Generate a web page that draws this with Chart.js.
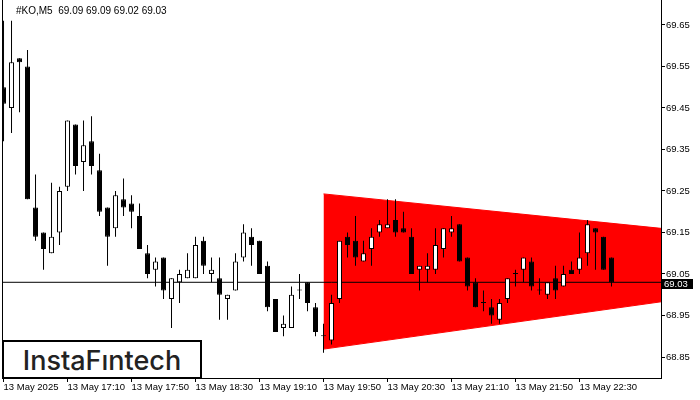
<!DOCTYPE html>
<html>
<head>
<meta charset="utf-8">
<script src="https://cdn.jsdelivr.net/npm/chart.js@4"></script>
<style>
  body { margin: 0; background: #fff; }
  #wrap { position: relative; width: 700px; height: 400px; }
  #title { position: absolute; left: 16px; top: 5px; font: 10px "Liberation Sans", sans-serif; color: #000; white-space: pre; }
  #logo { position: absolute; left: 2px; top: 340px; width: 196px; height: 35px; border: 2px solid #000; background: #fff;
          font: 500 27px Inter, sans-serif; color: #222; text-align: center; line-height: 37px; }
</style>
</head>
<body>
<div id="wrap">
  <canvas id="chart" width="700" height="400"></canvas>
  <div id="title"></div>
  <div id="logo">InstaFıntech</div>
</div>
<script>
// 5 min candles, 16:30 .. 22:50
const opens  = [69.50,69.45,69.57,69.55,69.21,69.15,69.10,69.15,69.26,69.41,69.32,69.37,69.30,69.21,69.16,69.23,69.22,69.19,69.10,69.06,
                69.09,68.99,69.03,69.04,69.04,69.13,69.05,69.04,68.99,69.01,69.09,69.14,69.13,69.07,68.99,68.92,68.92,69.01,69.03,68.97,
                68.90,68.89,68.99,69.14,69.13,69.08,69.11,69.15,69.16,69.18,69.16,69.14,69.06,69.06,69.06,69.11,69.15,69.17,69.09,69.03,
                68.98,68.97,68.94,68.99,69.05,69.06,69.08,69.01,69.00,69.04,69.02,69.06,69.06,69.10,69.16,69.14,69.09];
const highs  = [69.66,69.66,69.57,69.59,69.29,69.15,69.27,69.26,69.42,69.41,69.42,69.43,69.34,69.21,69.25,69.28,69.24,69.22,69.12,69.09,
                69.09,69.04,69.06,69.10,69.14,69.14,69.09,69.09,69.00,69.10,69.17,69.16,69.13,69.08,68.99,68.95,69.02,69.05,69.03,68.98,
                68.93,69.00,69.13,69.15,69.19,69.13,69.16,69.18,69.23,69.23,69.20,69.16,69.07,69.10,69.16,69.16,69.19,69.17,69.09,69.04,
                69.01,68.99,68.99,69.04,69.06,69.09,69.09,69.04,69.03,69.07,69.07,69.08,69.15,69.18,69.16,69.14,69.09];
const lows   = [69.37,69.39,69.44,69.23,69.13,69.06,69.10,69.12,69.25,69.29,69.25,69.29,69.19,69.07,69.14,69.19,69.16,69.11,69.04,69.02,
                68.99,68.92,68.98,69.04,69.04,69.05,69.03,68.94,68.94,69.01,69.08,69.07,69.05,68.96,68.91,68.90,68.92,68.99,68.96,68.90,
                68.86,68.88,68.98,69.09,69.07,69.08,69.07,69.14,69.16,69.14,69.15,69.05,69.01,69.03,69.05,69.09,69.14,69.08,69.01,68.97,
                68.96,68.93,68.93,68.98,69.02,69.03,69.01,69.00,68.99,68.99,69.02,69.05,69.05,69.07,69.06,69.06,69.02];
const closes = [69.46,69.56,69.56,69.23,69.14,69.11,69.14,69.25,69.42,69.31,69.36,69.31,69.20,69.14,69.24,69.21,69.20,69.11,69.05,69.08,
                69.01,69.04,69.05,69.06,69.12,69.07,69.06,69.00,69.00,69.08,69.15,69.12,69.05,68.97,68.91,68.93,69.00,69.01,68.98,68.91,
                68.90,68.98,69.13,69.12,69.09,69.10,69.14,69.17,69.17,69.15,69.15,69.05,69.07,69.07,69.12,69.16,69.16,69.08,69.02,68.97,
                68.98,68.95,68.98,69.04,69.05,69.09,69.02,69.01,69.03,69.01,69.05,69.05,69.09,69.17,69.15,69.06,69.03];

const timeTickIdx = [0, 8, 16, 24, 32, 40, 48, 56, 64, 72];
const timeLabels = ["13 May 2025", "13 May 17:10", "13 May 17:50", "13 May 18:30", "13 May 19:10",
                    "13 May 19:50", "13 May 20:30", "13 May 21:10", "13 May 21:50", "13 May 22:30"];
const priceTicks = [68.85, 68.95, 69.05, 69.15, 69.25, 69.35, 69.45, 69.55, 69.65];

// triangle pattern (left edge at bar 40, runs to right side)
const triX = [40, 82.19];
const triTop = [69.243, 69.16];
const triBottom = [68.869, 68.983];

const xMin = -0.19, xMax = 82.19;
const yMin = 68.7994, yMax = 69.7102;

const last = closes.length - 1;
document.getElementById('title').textContent = '#KO,M5  ' +
    [opens[last], highs[last], lows[last], closes[last]].map(v => v.toFixed(2)).join(' ');

let wicks = [], bodies = [], bodyFill = [];
for (let i = 0; i < opens.length; i++) {
    wicks.push({x: i, y: [lows[i], highs[i]]});
    bodies.push({x: i, y: [opens[i], closes[i]]});
    bodyFill.push(closes[i] > opens[i] ? '#fff' : '#000');
}

const extras = {
    id: 'extras',
    afterDraw(chart) {
        const {ctx, chartArea, scales} = chart;
        ctx.save();
        ctx.strokeStyle = '#000';
        ctx.lineWidth = 1;
        ctx.beginPath();
        ctx.moveTo(chartArea.left + 0.5, chartArea.top);
        ctx.lineTo(chartArea.left + 0.5, chartArea.bottom);
        ctx.stroke();
        // current price tag
        let y = Math.round(scales.y.getPixelForValue(closes[last]));
        ctx.fillStyle = '#000';
        ctx.fillRect(chartArea.right + 1, y - 3, 31, 10);
        ctx.fillStyle = '#fff';
        ctx.font = '9.5px "Liberation Sans"';
        ctx.textBaseline = 'middle';
        ctx.fillText(closes[last].toFixed(2), chartArea.right + 3, y + 2);
        ctx.restore();
    }
};

new Chart('chart', {
    type: 'bar',
    data: {
        datasets: [
            {type: 'line', data: triX.map((x, i) => ({x: x, y: triTop[i]})), borderColor: '#f00', borderWidth: 1,
             pointRadius: 0, order: 6},
            {type: 'line', data: triX.map((x, i) => ({x: x, y: triBottom[i]})), borderColor: '#f00', borderWidth: 1,
             pointRadius: 0, fill: 0, backgroundColor: '#f00', order: 5},
            {type: 'line', data: [{x: xMin, y: closes[last]}, {x: xMax, y: closes[last]}], borderColor: '#000',
             borderWidth: 1, pointRadius: 0, order: 3},
            {data: wicks, backgroundColor: '#000', barThickness: 1, grouped: false, inflateAmount: 0,
             borderWidth: 0, order: 2},
            {data: bodies, backgroundColor: bodyFill, borderColor: '#000', borderWidth: 1, borderSkipped: false,
             barThickness: 5, grouped: false, inflateAmount: 0, minBarLength: 1, order: 1}
        ]
    },
    options: {
        responsive: false,
        devicePixelRatio: 1,
        animation: false,
        layout: {padding: {left: 2, top: 0, right: 0, bottom: 0}},
        plugins: {legend: {display: false}, tooltip: {enabled: false}},
        scales: {
            x: {
                type: 'linear', min: xMin, max: xMax, offset: false,
                grid: {drawOnChartArea: false, drawTicks: true, tickLength: 4, color: '#000', offset: false},
                border: {display: true, color: '#000'},
                ticks: {align: 'start', maxRotation: 0, autoSkip: false, padding: 0, color: '#000',
                        font: {family: 'Liberation Sans', size: 9.5},
                        callback: (v, i) => timeLabels[i]},
                afterBuildTicks: s => { s.ticks = timeTickIdx.map(v => ({value: v})); },
                afterFit: s => { s.height = 22; s.paddingLeft = 0; s.paddingRight = 0; }
            },
            y: {
                position: 'right', min: yMin, max: yMax,
                grid: {drawOnChartArea: false, drawTicks: true, tickLength: 4, color: '#000'},
                border: {display: true, color: '#000'},
                ticks: {padding: 1, color: '#000', font: {family: 'Liberation Sans', size: 9.5},
                        callback: v => v.toFixed(2)},
                afterBuildTicks: s => { s.ticks = priceTicks.map(v => ({value: v})); },
                afterFit: s => { s.width = 39; s.paddingTop = 0; s.paddingBottom = 0; }
            }
        }
    },
    plugins: [extras]
});
</script>
</body>
</html>
